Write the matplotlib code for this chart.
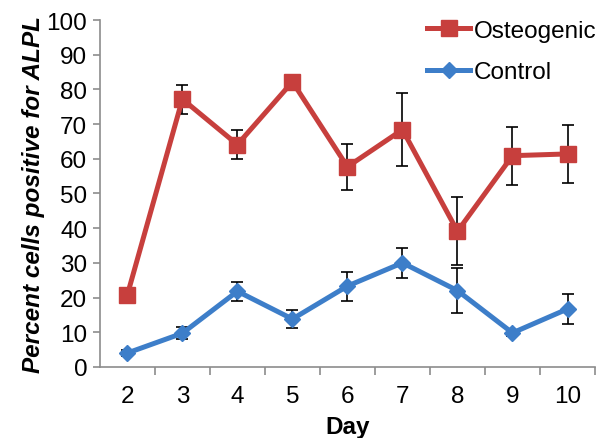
import matplotlib
matplotlib.use('Agg')
import matplotlib.pyplot as plt

days = [2, 3, 4, 5, 6, 7, 8, 9, 10]
osteo = [20.8, 77.2, 64.1, 82.2, 57.7, 68.4, 39.1, 60.9, 61.4]
osteo_err = [2.0, 4.2, 4.2, 1.0, 6.7, 10.6, 9.8, 8.4, 8.4]
control = [4.0, 9.7, 21.8, 13.8, 23.3, 30.0, 22.0, 9.8, 16.7]
control_err = [0.8, 1.8, 2.7, 2.7, 4.2, 4.4, 6.4, 0.8, 4.2]
yticks = list(range(0, 101, 10))

RED = '#C73F3D'
BLUE = '#3D7EC9'
GRAY = '#8C8C8C'

plt.rcParams['font.family'] = ['Liberation Sans', 'DejaVu Sans']

fig = plt.figure(figsize=(5.98, 4.39), dpi=100)
ax = fig.add_axes([0.167, 0.162, 0.828, 0.790])

# error bars behind the lines
ax.errorbar(days, osteo, yerr=osteo_err, fmt='none', ecolor='black',
            elinewidth=1.2, capsize=4, capthick=1.2, zorder=1)
ax.errorbar(days, control, yerr=control_err, fmt='none', ecolor='black',
            elinewidth=1.2, capsize=4, capthick=1.2, zorder=1)

ax.plot(days, osteo, color=RED, lw=3.6, marker='s', ms=12,
        label='Osteogenic', zorder=3)
ax.plot(days, control, color=BLUE, lw=3.6, marker='D', ms=8,
        label='Control', zorder=2)

ax.set_xlim(1.5, 10.5)
ax.set_ylim(0, 100)
ax.set_yticks(yticks)
ax.set_xticks(days)
ax.set_xticks([d + 0.5 for d in days], minor=True)
ax.tick_params(axis='x', which='major', length=0, labelsize=17.5, pad=13)
ax.tick_params(axis='x', which='minor', length=6, color=GRAY, width=1.2)
ax.tick_params(axis='y', length=5, color=GRAY, width=1.2, labelsize=17.5, pad=4)

for side in ['top', 'right']:
    ax.spines[side].set_visible(False)
for side in ['left', 'bottom']:
    ax.spines[side].set_color(GRAY)
    ax.spines[side].set_linewidth(1.2)

ax.set_xlabel('Day', fontsize=17.5, fontweight='bold', labelpad=6)
ax.set_ylabel('Percent cells positive for ALPL', fontsize=17.5,
              fontweight='bold', fontstyle='italic', labelpad=1)

fig.legend(loc='upper right', bbox_to_anchor=(0.997, 0.953), frameon=False,
           fontsize=17.5, handlelength=1.75, handletextpad=0.15,
           labelspacing=0.8, borderpad=0, borderaxespad=0)

fig.savefig('out.png', dpi=100)
